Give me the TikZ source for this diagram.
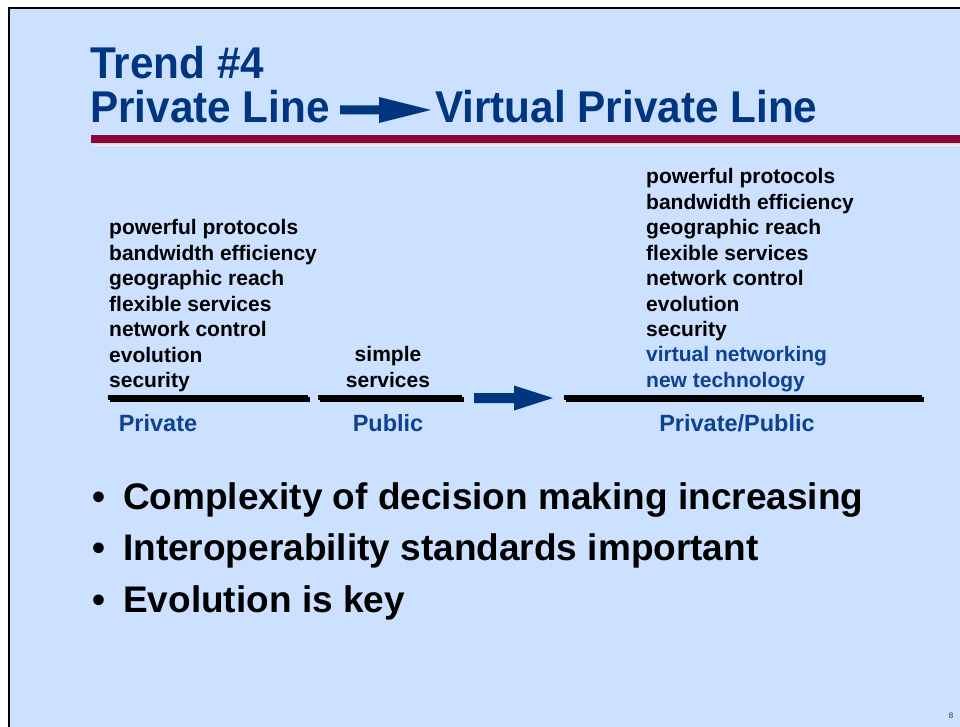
\documentclass[tikz,border=0pt]{standalone}
\usepackage{fontspec}
\setmainfont{Liberation Sans}
\newfontfamily\titlefont[FakeStretch=0.95]{Liberation Sans}
\begin{document}
\definecolor{slidebg}{RGB}{204,224,255}
\definecolor{navy}{RGB}{0,54,128}
\definecolor{labelblue}{RGB}{12,66,145}
\definecolor{barred}{RGB}{140,6,58}
\definecolor{shade}{RGB}{150,160,180}
\newcommand{\bulletitem}[1]{\makebox[31pt][l]{\textbullet}#1}
\begin{tikzpicture}[x=1pt,y=-1pt,
  body/.style={anchor=base west,inner sep=0pt,font=\fontsize{21}{25}\selectfont\bfseries,text=black},
  bodyc/.style={anchor=base,inner sep=0pt,font=\fontsize{21}{25}\selectfont\bfseries,text=black},
  blueitem/.style={body,text=labelblue},
  grouplabel/.style={anchor=base,inner sep=0pt,font=\fontsize{23.5}{28}\selectfont\bfseries,text=labelblue},
  titletext/.style={anchor=base west,inner sep=0pt,font=\fontsize{44.5}{50}\titlefont\bfseries,text=navy},
  bullet/.style={anchor=base west,inner sep=0pt,font=\fontsize{37}{42}\selectfont\bfseries,text=black},
  baseline rule/.style={line width=4.5pt,black},
  rule shadow/.style={line width=4.5pt,shade}]
\useasboundingbox (0,0) rectangle (960,727);
% slide frame
\fill[white] (0,0) rectangle (960,727);
\filldraw[fill=slidebg,draw=black,line width=2.5pt] (9,8) rectangle (975,745);

% title
\node[titletext] (t1) at (90,79) {Trend \#4};
\node[titletext] (t2) at (90,123) {Private Line};
\node[titletext] (t3) at (435,123) {Virtual Private Line};
\coordinate (ta) at (340,110);
\fill[navy] (ta) ++(0,-4.5) -- ++(39,0) -- ++(0,-8.5) -- (431,110) -- (379,123) -- ++(0,-8.5) -- ++(-39,0) -- cycle;

% title underline bar
\fill[shade] (93,137) rectangle (962,146);
\fill[barred] (91,135) rectangle (962,143);

% private column
\foreach \t [count=\i from 0] in {powerful protocols,bandwidth efficiency,geographic reach,flexible services,network control,evolution,security}
  \node[body] (p\i) at (109,235+25.4*\i) {\t};
% public column
\node[bodyc] (s1) at (388,361) {simple};
\node[bodyc] (s2) at (388,387) {services};
% private/public column
\foreach \t [count=\i from 0] in {powerful protocols,bandwidth efficiency,geographic reach,flexible services,network control,evolution,security}
  \node[body] (q\i) at (646,184+25.4*\i) {\t};
\node[blueitem] (q7) at (646,361.8) {virtual networking};
\node[blueitem] (q8) at (646,387.2) {new technology};

% base rules with shadows
\coordinate (a1) at (108,397.5); \coordinate (a2) at (308,397.5);
\coordinate (b1) at (318,397.5); \coordinate (b2) at (462,397.5);
\coordinate (c1) at (564,397.5); \coordinate (c2) at (922,397.5);
\foreach \u/\v in {a1/a2,b1/b2,c1/c2}{
  \draw[rule shadow] ([shift={(1.5,1.8)}]\u) -- ([shift={(1.5,1.8)}]\v);
  \draw[baseline rule] (\u) -- (\v);
}
% middle arrow
\coordinate (ma) at (474,398);
\fill[navy] (ma) ++(0,-5) -- ++(40,0) -- ++(0,-7.5) -- (553,398) -- (514,410.5) -- ++(0,-7.5) -- ++(-40,0) -- cycle;

% group labels
\node[grouplabel] (l1) at (158,431) {Private};
\node[grouplabel] (l2) at (388,431) {Public};
\node[grouplabel] (l3) at (737,431) {Private/Public};

% bullet points
\node[bullet] (b1t) at (92,509) {\bulletitem{Complexity of decision making increasing}};
\node[bullet] (b2t) at (92,560.5) {\bulletitem{Interoperability standards important}};
\node[bullet] (b3t) at (92,612) {\bulletitem{Evolution is key}};

% page number
\node[anchor=base,inner sep=0pt,font=\fontsize{8}{9}\selectfont,text=black!80] (pg) at (951,718) {8};
\end{tikzpicture}
\end{document}
